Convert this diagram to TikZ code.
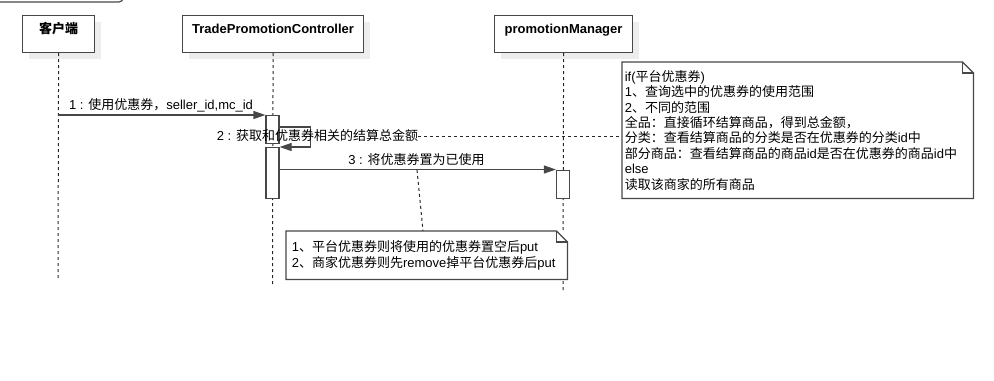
\documentclass[tikz,border=0pt]{standalone}
\usepackage{fontspec}
\setmainfont{Liberation Sans}
\newfontfamily\cjk{Noto Sans CJK SC}
\usetikzlibrary{arrows.meta,calc,shadows}
\newdimen\px \px=0.75pt
\newcommand\zh[1]{{\cjk #1}}
\newcommand\noteoutline[1]{%
  \draw[edge] (#1.north west) -- ([xshift=-8.25pt]#1.north east) -- ([yshift=-8.25pt]#1.north east) -- (#1.south east) -- (#1.south west) -- cycle;
  \draw[edge] ([xshift=-8.25pt]#1.north east) -- ([xshift=-8.25pt,yshift=-8.25pt]#1.north east) -- ([yshift=-8.25pt]#1.north east);}
\begin{document}
\begin{tikzpicture}[x=0.75pt,y=-0.75pt,
  font=\fontsize{9.75}{11.6}\selectfont,
  edge/.style={draw=black!72, line width=0.9pt},
  box/.style={edge, fill=white, anchor=north west, font=\bfseries\fontsize{9.75}{11.6}\selectfont,
    minimum height=37*\px, text height=9.3*\px, text depth=10.9*\px, inner ysep=8.4*\px,
    general shadow={fill=black!7, shadow xshift=6*\px, shadow yshift=-6*\px}},
  act/.style={edge, fill=white, minimum width=13*\px, anchor=north, inner sep=0pt},
  lifeline/.style={draw=black!85, line width=0.75pt, dash pattern=on 2.25pt off 2.25pt},
  msg/.style={edge, -{Triangle[length=9pt,width=6pt]}},
  link/.style={draw=black!85, line width=0.75pt, dash pattern=on 2.25pt off 2.25pt},
  lbl/.style={inner sep=0pt},
  note/.style={fill=white, anchor=north west, align=left, inner ysep=0pt}]
\useasboundingbox (0,0) rectangle (994,380);
% top-left frame remnant
\draw[edge, rounded corners=3pt] (-10,2) -- (123,2) -- (123,-10);
% participants
\node[box, minimum width=72*\px] (c) at (22,15) {\zh{客户端}};
\node[box, minimum width=181*\px] (t) at (182,15) {TradePromotionController};
\node[box, minimum width=138*\px] (p) at (494,15) {promotionManager};
% lifelines
\coordinate (ce) at (58,278);
\coordinate (te) at (272.5,285);
\coordinate (pe) at (563,291);
\draw[lifeline] (c.south) -- (ce);
\draw[lifeline] (t.south) -- (te);
\draw[lifeline] (p.south) -- (pe);
% activations
\node[act, minimum height=28*\px] (a1) at (272.5,115) {};
\node[act, minimum height=51*\px] (a2) at (272.5,147) {};
\node[act, minimum height=28.5*\px] (a3) at (563,169.5) {};
% messages
\coordinate (m1s) at (58,115);
\draw[msg] (m1s) -- (a1.north west);
\node[lbl] (l1) at (161,105.5) {1 : \zh{使用优惠券，}seller\_id,mc\_id};
\draw[msg] ($(a1.north east)+(0,12)$) -- ++(30.5,0) |- (a2.north east);
\node[lbl] (l2) at (317.5,136) {2 : \zh{获取和优惠券相关的结算总金额}};
\draw[msg] (a2.east |- a3.north) -- (a3.north west);
\node[lbl] (l3) at (416.5,160) {3 : \zh{将优惠券置为已使用}};
% note 1
\node[note, minimum width=351*\px, minimum height=136*\px, text width=346*\px, inner xsep=2.5*\px] (n1) at (622,62) {%
if(\zh{平台优惠券})\\
1\zh{、查询选中的优惠券的使用范围}\\
2\zh{、不同的范围}\\
\zh{全品：直接循环结算商品，得到总金额，}\\
\zh{分类：查看结算商品的分类是否在优惠券的分类}id\zh{中}\\
\zh{部分商品：查看结算商品的商品}id\zh{是否在优惠券的商品}id\zh{中}\\
else\\
\zh{读取该商家的所有商品}};
\noteoutline{n1}
\draw[link] (l2.east) -- (l2.east -| n1.west);
% note 2
\node[note, minimum width=281*\px, minimum height=48*\px, text width=270*\px, inner xsep=5.5*\px] (n2) at (286,231) {%
1\zh{、平台优惠券则将使用的优惠券置空后}put\\
2\zh{、商家优惠券则先}remove\zh{掉平台优惠券后}put};
\noteoutline{n2}
\coordinate (m3p) at (417,170);
\draw[link] (m3p) -- ($(n2.north west)+(137,0)$);
\end{tikzpicture}
\end{document}
